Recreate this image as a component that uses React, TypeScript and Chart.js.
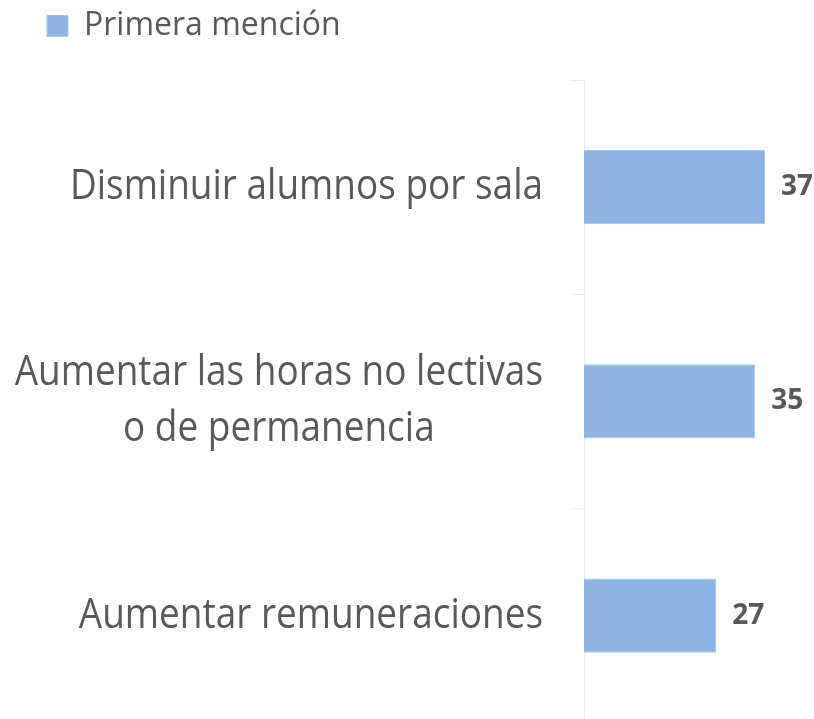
import React, { useEffect, useRef } from 'react';
import { Chart, registerables } from 'chart.js';

Chart.register(...registerables);

const categories: string[][] = [
  ['Disminuir alumnos por sala'],
  ['Aumentar las horas no lectivas', 'o de permanencia'],
  ['Aumentar remuneraciones'],
];
const values: number[] = [37, 35, 27];
const seriesLabel = 'Primera mención';
const xMin = 0;
const xMax = 47;

const TEXT_COLOR = '#595959';
const BAR_COLOR = '#8EB4E3';
const AXIS_COLOR = '#EDEDE6';
const FONT = '"Open Sans", "Noto Sans", sans-serif';
const LABEL_SIZE = 42;
const LABEL_SX = 0.88;
const LABEL_LINE_H = 56;
const LABEL_GAP = 41;
const LAYOUT_LEFT = 37;
const AXIS_X = 584;

const labelPlugin = {
  id: 'customLabels',
  afterDatasetsDraw(chart: any) {
    const ctx = chart.ctx as CanvasRenderingContext2D;
    const yScale = chart.scales.y;
    ctx.save();
    ctx.fillStyle = TEXT_COLOR;
    ctx.font = `${LABEL_SIZE}px ${FONT}`;
    ctx.textBaseline = 'middle';
    categories.forEach((lines, i) => {
      const cy = yScale.getPixelForTick(i);
      const widths = lines.map((l) => ctx.measureText(l).width * LABEL_SX);
      const bw = Math.max(...widths);
      const right = yScale.right - LABEL_GAP;
      const center = right - bw / 2;
      const n = lines.length;
      lines.forEach((l, j) => {
        const ly = cy + (j - (n - 1) / 2) * LABEL_LINE_H;
        ctx.save();
        ctx.translate(center, ly);
        ctx.scale(LABEL_SX, 1);
        ctx.textAlign = 'center';
        ctx.fillText(l, 0, 0);
        ctx.restore();
      });
    });
    const meta = chart.getDatasetMeta(0);
    ctx.font = `bold 28px ${FONT}`;
    ctx.textAlign = 'left';
    meta.data.forEach((bar: any, i: number) => {
      ctx.fillText(String(values[i]), bar.x + 16, bar.y);
    });
    ctx.restore();
  },
};

export default function App() {
  const canvasRef = useRef<HTMLCanvasElement | null>(null);

  useEffect(() => {
    if (!canvasRef.current) return;
    const chart = new Chart(canvasRef.current, {
      type: 'bar',
      data: {
        labels: categories,
        datasets: [
          {
            label: seriesLabel,
            data: values,
            backgroundColor: BAR_COLOR,
            borderColor: '#A9C6EA',
            borderWidth: 1,
            categoryPercentage: 1,
            barPercentage: 0.346,
          },
        ],
      },
      options: {
        indexAxis: 'y',
        animation: false,
        responsive: true,
        maintainAspectRatio: false,
        layout: { padding: { left: LAYOUT_LEFT, top: 0, right: 0, bottom: 0 } },
        plugins: {
          legend: {
            display: true,
            position: 'top',
            align: 'start',
            labels: {
              boxWidth: 21,
              boxHeight: 21,
              color: TEXT_COLOR,
              font: { family: FONT, size: 32 },
              padding: 10,
            },
          },
          title: {
            display: true,
            text: ' ',
            weight: 0,
            padding: 0,
            font: { size: 28, lineHeight: 1 },
          } as any,
          tooltip: { enabled: false },
        },
        scales: {
          x: {
            display: false,
            min: xMin,
            max: xMax,
          },
          y: {
            position: 'left',
            grid: {
              drawOnChartArea: false,
              drawTicks: true,
              tickLength: 14,
              color: AXIS_COLOR,
              offset: true,
            },
            border: { display: true, color: AXIS_COLOR, width: 1 },
            ticks: { callback: () => '', padding: 0 },
            afterFit: (scale: any) => {
              scale.width = AXIS_X - LAYOUT_LEFT;
            },
          },
        },
      },
      plugins: [labelPlugin],
    });
    return () => chart.destroy();
  }, []);

  return (
    <div style={{ position: 'fixed', left: 0, top: 0, width: 814, height: 719, overflow: 'hidden', background: '#fff' }}>
      <div style={{ position: 'relative', width: 814, height: 730 }}>
        <canvas ref={canvasRef} />
      </div>
    </div>
  );
}
